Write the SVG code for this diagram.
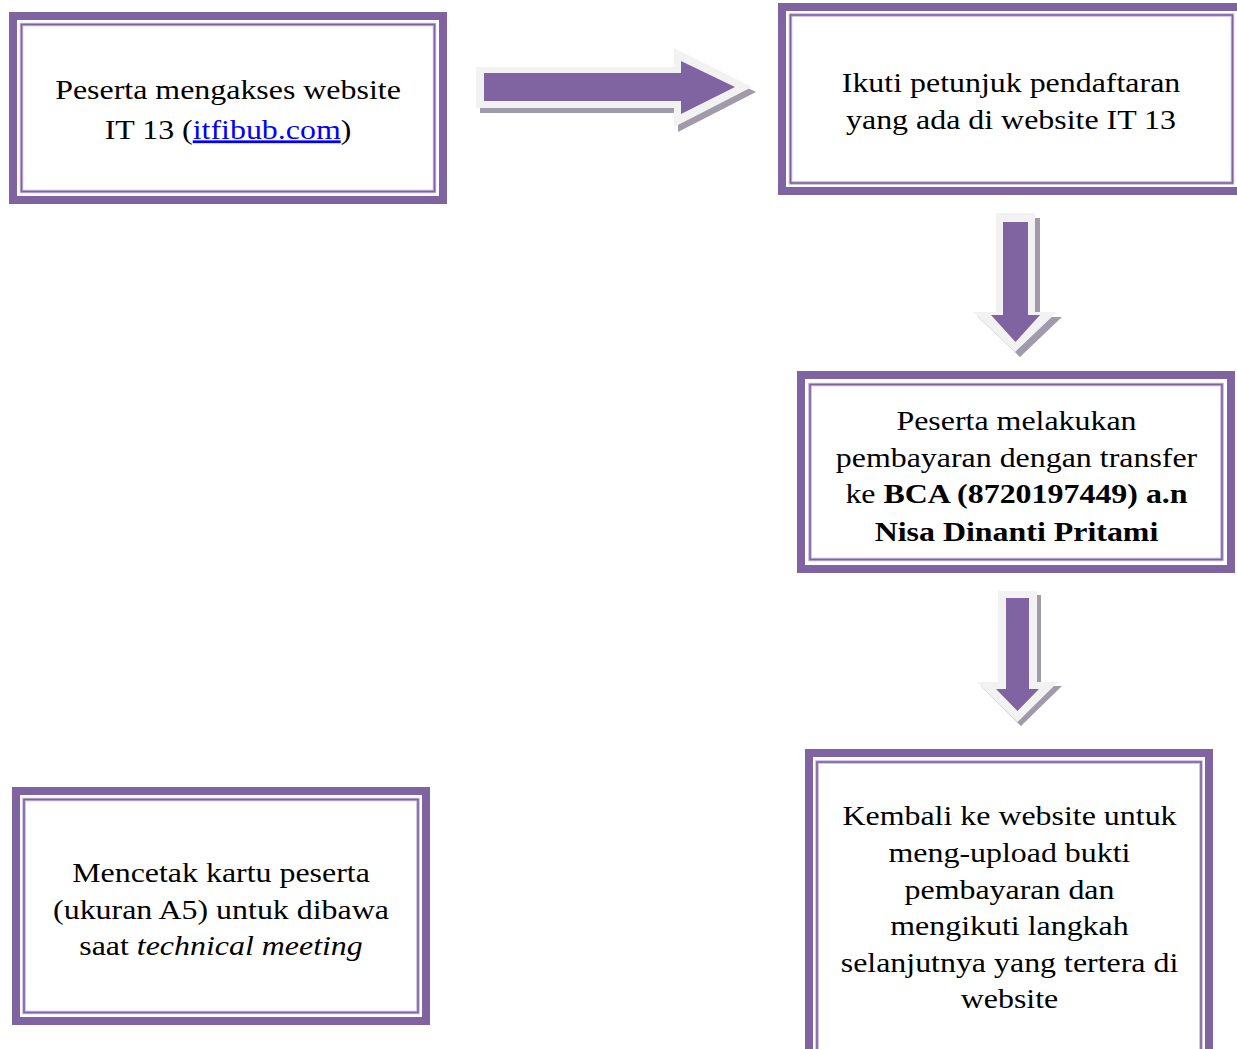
<svg xmlns="http://www.w3.org/2000/svg" width="1237" height="1049" viewBox="0 0 1237 1049">
<style>
.thick{fill:#fff;stroke:#8064A2;stroke-width:8}
.halo{fill:none;stroke:#C3B6D8;stroke-width:3.5}
.thin{fill:none;stroke:#8064A2;stroke-width:1.6}
.t{font-family:"Liberation Serif","Times New Roman",serif;font-size:28px;fill:#000;text-anchor:middle}
.b{font-weight:bold}
.i{font-style:italic}
.lnk{fill:#0000FF;text-decoration:underline}
.sh{fill:#A09AAB}
.lt{fill:#F2F2F2}
.pu{fill:#8064A2}
</style>
<rect width="1237" height="1049" fill="#fff"/>
<g id="connectors">
  <g id="arrow-right">
    <polygon class="sh" points="480,72 678,72 678,53 756,92 678,132 678,113 480,113"/>
    <polygon class="lt" points="476,67 674,67 674,48 752,87 674,127 674,108 476,108"/>
    <polygon class="pu" points="484,73 681,73 681,61 735,87 681,114 681,101 484,101"/>
  </g>
  <g id="arrow-down-1">
    <polygon class="sh" points="1001,218 1040,218 1040,317 1062,317 1020,357 978,317 1001,317"/>
    <polygon class="lt" points="996,213 1035,213 1035,312 1057,312 1015,352 973,312 996,312"/>
    <polygon class="pu" points="1003,222 1028,222 1028,315 1040,315 1015.5,342 991,315 1003,315"/>
  </g>
  <g id="arrow-down-2">
    <polygon class="sh" points="1002,595 1041,595 1041,686 1062,686 1021,726 981,686 1002,686"/>
    <polygon class="lt" points="998,591 1037,591 1037,682 1058,682 1017.5,722 977,682 998,682"/>
    <polygon class="pu" points="1006,598 1029,598 1029,689 1039,689 1017.5,711 996,689 1006,689"/>
  </g>
</g>
<g id="node-1">
  <rect class="thick" x="13" y="16" width="430" height="184"/>
  <rect class="halo" x="21.5" y="24.5" width="413" height="167"/>
  <rect class="thin" x="21.5" y="24.5" width="413" height="167"/>
  <text class="t" transform="translate(228,99) scale(1.14,1)">Peserta mengakses website</text>
  <text class="t" transform="translate(228,138.5) scale(1.14,1)">IT 13 (<tspan class="lnk">itfibub.com</tspan>)</text>
</g>
<g id="node-2">
  <rect class="thick" x="782" y="7" width="459" height="184"/>
  <rect class="halo" x="790.5" y="15" width="442" height="168"/>
  <rect class="thin" x="790.5" y="15" width="442" height="168"/>
  <text class="t" transform="translate(1011,92) scale(1.14,1)">Ikuti petunjuk pendaftaran</text>
  <text class="t" transform="translate(1011,128.5) scale(1.14,1)">yang ada di website IT 13</text>
</g>
<g id="node-3">
  <rect class="thick" x="801" y="375" width="430" height="194"/>
  <rect class="halo" x="810" y="384.5" width="412" height="175"/>
  <rect class="thin" x="810" y="384.5" width="412" height="175"/>
  <text class="t" transform="translate(1016.5,430) scale(1.14,1)">Peserta melakukan</text>
  <text class="t" transform="translate(1016.5,466.5) scale(1.14,1)">pembayaran dengan transfer</text>
  <text class="t" transform="translate(1016.5,503) scale(1.14,1)">ke <tspan class="b">BCA (8720197449) a.n</tspan></text>
  <text class="t b" transform="translate(1016.5,540.5) scale(1.14,1)">Nisa Dinanti Pritami</text>
</g>
<g id="node-4">
  <rect class="thick" x="809" y="753" width="400" height="320"/>
  <rect class="halo" x="817" y="762" width="384" height="310"/>
  <rect class="thin" x="817" y="762" width="384" height="310"/>
  <text class="t" transform="translate(1009.5,825) scale(1.14,1)">Kembali ke website untuk</text>
  <text class="t" transform="translate(1009.5,862) scale(1.14,1)">meng-upload bukti</text>
  <text class="t" transform="translate(1009.5,898.5) scale(1.14,1)">pembayaran dan</text>
  <text class="t" transform="translate(1009.5,935) scale(1.14,1)">mengikuti langkah</text>
  <text class="t" transform="translate(1009.5,971.5) scale(1.14,1)">selanjutnya yang tertera di</text>
  <text class="t" transform="translate(1009.5,1008) scale(1.14,1)">website</text>
</g>
<g id="node-5">
  <rect class="thick" x="16" y="791" width="410" height="230"/>
  <rect class="halo" x="24" y="799.5" width="394" height="213"/>
  <rect class="thin" x="24" y="799.5" width="394" height="213"/>
  <text class="t" transform="translate(221,882) scale(1.14,1)">Mencetak kartu peserta</text>
  <text class="t" transform="translate(221,918.5) scale(1.14,1)">(ukuran A5) untuk dibawa</text>
  <text class="t" transform="translate(221,955) scale(1.14,1)">saat <tspan class="i">technical meeting</tspan></text>
</g>
</svg>
